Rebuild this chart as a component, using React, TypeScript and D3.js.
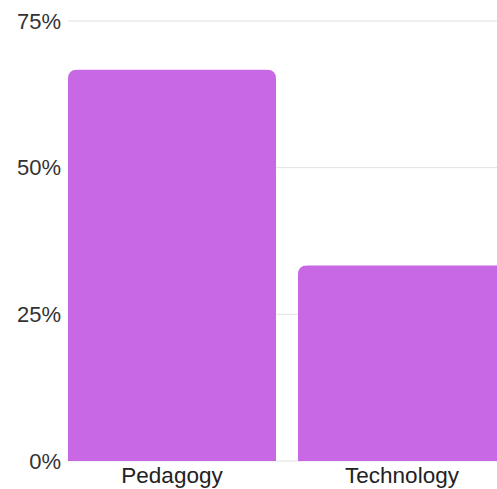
import React from "react";
import * as d3 from "d3";

const categories = ["Pedagogy", "Technology"];
const values = [66.67, 33.33];
const yTicks = [0, 25, 50, 75];

const W = 497;
const H = 489;

function topRoundedRect(x: number, y: number, w: number, h: number, r: number) {
  const rr = Math.min(r, h, w / 2);
  return `M${x},${y + h}V${y + rr}Q${x},${y} ${x + rr},${y}H${x + w - rr}Q${x + w},${y} ${x + w},${y + rr}V${y + h}Z`;
}

export default function App() {
  const left = 68;
  const y = d3.scaleLinear().domain([0, 75]).range([461, 21]);
  const x = d3.scaleBand().domain(categories).range([left, left + 438]).paddingInner(22 / 230).paddingOuter(0);
  const color = "#c868e5";
  const font = "'Liberation Sans', Arial, sans-serif";
  return (
    <svg width={W} height={H} style={{ position: "absolute", left: 0, top: 0, background: "#fff" }}>
      {yTicks.map((t) => (
        <g key={t}>
          <line x1={left} x2={W} y1={y(t)} y2={y(t)} stroke="#e2e2e2" strokeWidth={1} />
          <text x={61} y={y(t)} dy="0.35em" textAnchor="end" fontFamily={font} fontSize={22} fill="#333">
            {t}%
          </text>
        </g>
      ))}
      {categories.map((c, i) => {
        const bx = x(c)!;
        const bw = x.bandwidth();
        const by = y(values[i]);
        return (
          <g key={c}>
            <path d={topRoundedRect(bx, by, bw, y(0) - by, 9)} fill={color} />
            <text x={bx + bw / 2} y={483} textAnchor="middle" fontFamily={font} fontSize={22.5} fill="#222">
              {c}
            </text>
          </g>
        );
      })}
    </svg>
  );
}
